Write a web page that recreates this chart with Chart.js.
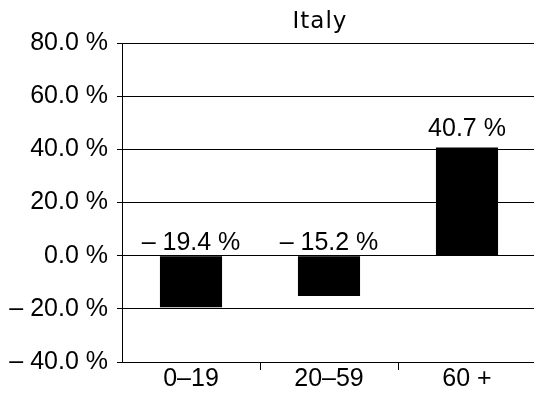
<!DOCTYPE html>
<html>
<head>
<meta charset="utf-8">
<title>Italy</title>
<script src="https://cdn.jsdelivr.net/npm/chart.js@4"></script>
<style>
  html, body { margin: 0; padding: 0; background: #fff; overflow: hidden; }
  canvas { display: block; }
</style>
</head>
<body>
<canvas id="chart" width="540" height="401"></canvas>
<script>
// ==============================
// DATA
// ==============================
const ageGroups = ['0–19', '20–59', '60 +'];
const changePct = [-19.4, -15.2, 40.7];
const yTicks = [-40, -20, 0, 20, 40, 60, 80];
const chartTitle = 'Italy';

const LABEL_FONT = '"Liberation Sans", Arial, sans-serif';

// "– 20.0 %" style, with an en dash for negatives
function pct(v) {
  const s = Math.abs(v).toFixed(1) + ' %';
  return v < 0 ? '– ' + s : s;
}

// ==============================
// TITLE + VALUE LABELS
// ==============================
const barLabels = {
  id: 'barLabels',
  afterDatasetsDraw(chart) {
    const { ctx } = chart;
    const yScale = chart.scales.y;
    const zeroY = yScale.getPixelForValue(0);
    const meta = chart.getDatasetMeta(0);

    ctx.save();
    ctx.fillStyle = '#000';
    ctx.textAlign = 'center';
    ctx.textBaseline = 'alphabetic';
    ctx.font = '25px ' + LABEL_FONT;
    meta.data.forEach((bar, i) => {
      const v = changePct[i];
      // negative values sit above the zero line, positive ones above the bar
      const y = v < 0 ? zeroY - 6 : bar.y - 11;
      ctx.fillText(pct(v), bar.x, y);
    });

    ctx.font = '23px "DejaVu Sans", sans-serif';
    ctx.letterSpacing = '1px';
    ctx.fillText(chartTitle, 320, 28);
    ctx.restore();
  }
};

// ==============================
// CHART
// ==============================
new Chart(document.getElementById('chart'), {
  type: 'bar',
  data: {
    labels: ageGroups,
    datasets: [{
      data: changePct,
      backgroundColor: '#000',
      borderWidth: 0,
      barPercentage: 0.45,
      categoryPercentage: 1
    }]
  },
  options: {
    responsive: false,
    animation: false,
    layout: { padding: { top: 43, left: 0, right: 4, bottom: 0 } },
    plugins: {
      legend: { display: false },
      tooltip: { enabled: false }
    },
    scales: {
      y: {
        min: yTicks[0],
        max: yTicks[yTicks.length - 1],
        afterBuildTicks: (s) => { s.ticks = yTicks.map(v => ({ value: v })); },
        afterFit: (s) => { s.width = 122; },
        grid: { color: '#000', lineWidth: 1, tickLength: 5 },
        border: { color: '#000', width: 1 },
        ticks: {
          color: '#000',
          padding: 9,
          font: { family: LABEL_FONT, size: 25 },
          callback: v => pct(v)
        }
      },
      x: {
        afterFit: (s) => { s.height = 39; },
        offset: true,
        grid: {
          offset: true,
          drawOnChartArea: false,
          tickLength: 8,
          color: c => (c.index === 0 ? 'rgba(0,0,0,0)' : '#000')
        },
        border: { color: '#000', width: 1 },
        ticks: {
          color: '#000',
          padding: -6,
          font: { family: LABEL_FONT, size: 25 }
        }
      }
    }
  },
  plugins: [barLabels]
});
</script>
</body>
</html>
